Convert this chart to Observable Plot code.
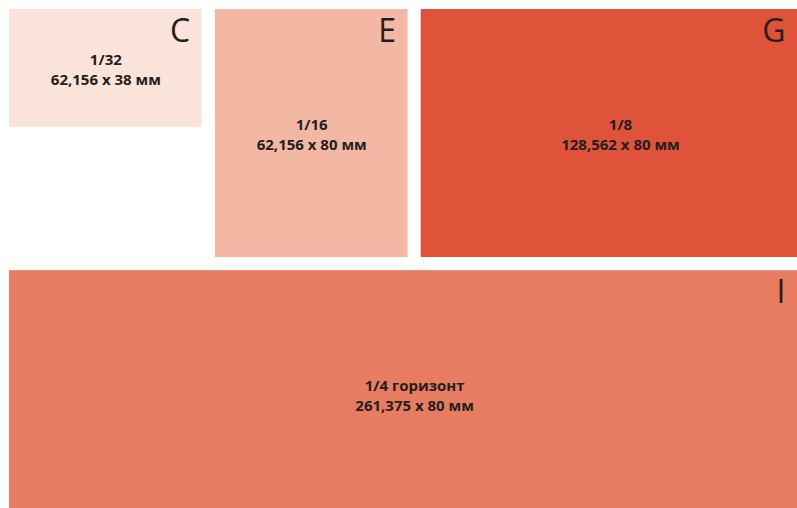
<!DOCTYPE html>
<html><head><meta charset="utf-8">
<script src="https://cdn.jsdelivr.net/npm/d3@7"></script>
<script src="https://cdn.jsdelivr.net/npm/@observablehq/plot@0.6"></script>
<style>
body{margin:0;background:#fff}
#chart{width:797px;height:508px;overflow:hidden}
</style>
</head><body><div id="chart"></div>
<script>
// Ad module sizes (mm)
const codes = ["C", "E", "G", "I"];
const fractions = ["1/32", "1/16", "1/8", "1/4 горизонт"];
const sizeLabels = ["62,156 x 38 мм", "62,156 x 80 мм", "128,562 x 80 мм", "261,375 x 80 мм"];
const widthsMm = [62.156, 62.156, 128.562, 261.375];
const heightsMm = [38, 80, 80, 80];
const rowIndex = [0, 0, 0, 1];

const gap = 4.25;          // gutter between modules, mm
const pxPerMm = 3.1;
const pad = 9;
const W = 797, H = 508;

// lay modules out left-to-right per row
const data = [];
let cursor = {0: 0, 1: 0};
codes.forEach((c, i) => {
  const r = rowIndex[i];
  const x1 = cursor[r];
  const x2 = x1 + widthsMm[i];
  cursor[r] = x2 + gap;
  const y1 = r === 0 ? 0 : 80 + gap;
  const y2 = y1 + heightsMm[i];
  data.push({code: c, frac: fractions[i], size: sizeLabels[i], x1, x2, y1, y2,
             label: fractions[i] + "\n" + sizeLabels[i]});
});

const totalW = 261.375, totalH = 80 + gap + 80;
const visibleMaxX = (W - pad) / pxPerMm;

const plot = Plot.plot({
  width: W,
  height: H,
  margin: 0,
  x: {domain: [0, totalW], range: [pad, pad + totalW * pxPerMm], axis: null},
  y: {domain: [0, totalH], range: [pad, pad + totalH * pxPerMm], axis: null},
  color: {domain: codes, range: ["#fae3d9", "#f3b8a3", "#e0533b", "#e77c61"]},
  style: {background: "#ffffff"},
  marks: [
    Plot.rect(data, {x1: "x1", x2: "x2", y1: "y1", y2: "y2", fill: "code"}),
    Plot.text(data, {
      x: d => (d.x1 + d.x2) / 2,
      y: d => (d.y1 + d.y2) / 2,
      text: "label",
      fontSize: 15,
      fontWeight: 700,
      fontFamily: "Open Sans",
      lineHeight: 1.36,
      lineAnchor: "middle",
      fill: "#231f20"
    }),
    Plot.text(data, {
      x: d => Math.min(d.x2, visibleMaxX),
      y: "y1",
      text: "code",
      textAnchor: "end",
      lineAnchor: "top",
      dx: -12,
      dy: 10,
      fontSize: 32,
      fontWeight: 400,
      fontFamily: "Open Sans",
      fill: "#231f20"
    })
  ]
});
document.getElementById("chart").appendChild(plot);
</script>
</body></html>
